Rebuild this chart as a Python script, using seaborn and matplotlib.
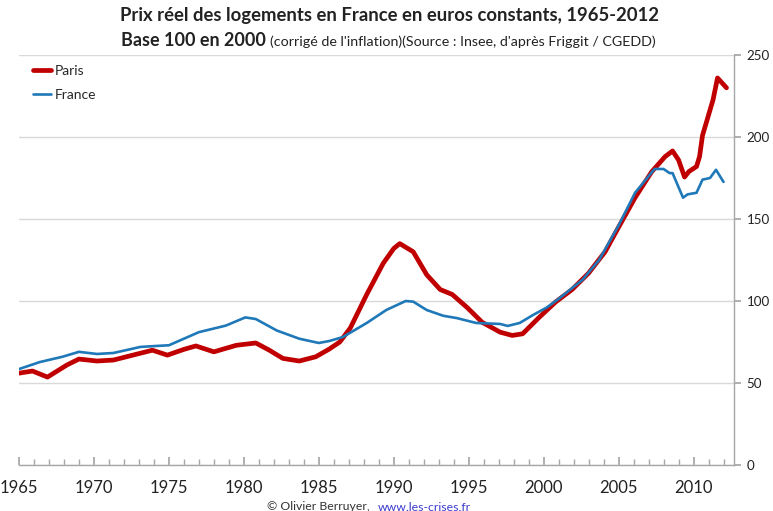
import numpy as np
import pandas as pd
import matplotlib
matplotlib.use("Agg")
import matplotlib.pyplot as plt
import seaborn as sns
from matplotlib.ticker import MultipleLocator

# ---- data ----
paris_years = [1965.0, 1965.9, 1966.9, 1968.2, 1969.0, 1970.2, 1971.3, 1972.6, 1973.9, 1974.9,
               1976.0, 1976.8, 1978.0, 1979.5, 1980.8, 1981.7, 1982.6, 1983.7, 1984.8, 1985.7,
               1986.4, 1987.1, 1988.2, 1989.3, 1990.0, 1990.4, 1991.3, 1992.2, 1993.1, 1993.9,
               1994.9, 1995.9, 1997.1, 1997.9, 1998.6, 1999.7, 2000.8, 2001.9, 2003.0, 2004.1,
               2005.0, 2006.1, 2007.2, 2008.1, 2008.6, 2009.0, 2009.4, 2009.7, 2010.2, 2010.4,
               2010.6, 2011.3, 2011.6, 2012.2]
paris_values = [56, 57.3, 53.6, 61, 64.6, 63.4, 64, 67, 70, 67,
                70.5, 72.6, 69, 73, 74.4, 70, 65, 63.4, 66, 70.7,
                75, 83.5, 104, 123, 132, 135, 130, 116, 107, 104,
                96, 87, 81, 79, 80, 90, 99.4, 107, 117, 130,
                145, 163, 178.7, 188, 191.5, 186, 175.6, 179, 182, 188,
                201, 222.6, 236, 230]

france_years = [1965.0, 1966.4, 1967.9, 1969.0, 1970.2, 1971.3, 1973.1, 1974.2, 1975.0, 1977.0,
                1978.8, 1980.1, 1980.8, 1982.2, 1983.7, 1985.0, 1985.7, 1986.6, 1988.2, 1989.5,
                1990.8, 1991.3, 1992.2, 1993.3, 1994.2, 1995.5, 1997.1, 1997.6, 1998.4, 1999.3,
                2000.2, 2001.1, 2002.6, 2003.7, 2005.0, 2006.1, 2007.4, 2008.0, 2008.4, 2008.6,
                2009.3, 2009.6, 2010.2, 2010.6, 2011.1, 2011.5, 2012.0]
france_values = [58.5, 62.8, 66, 69, 67.7, 68.3, 72, 72.6, 73, 81,
                 85, 90, 89, 82, 77, 74.4, 75.6, 78, 86.6, 94.5,
                 100, 99.6, 94.5, 91, 89.6, 86.6, 86, 84.8, 86.6, 91.5,
                 96, 102, 113, 125, 146, 166, 180.5, 180.5, 178, 178,
                 163, 165, 166, 174, 175, 180, 172.6]

x_ticks = [1965, 1970, 1975, 1980, 1985, 1990, 1995, 2000, 2005, 2010]
y_ticks = [0, 50, 100, 150, 200, 250]

title = "Prix réel des logements en France en euros constants, 1965-2012"
sub_bold = "Base 100 en 2000"
sub_rest = "(corrigé de l'inflation)(Source : Insee, d'après Friggit / CGEDD)"

# ---- style ----
sns.set_theme(style="white")
FONT = "Lato"
plt.rcParams["font.family"] = [FONT, "DejaVu Sans"]

W, H = 773, 511
fig = plt.figure(figsize=(W / 100, H / 100), dpi=100)
ax = fig.add_axes([19 / W, 1 - 465 / H, (734 - 19) / W, (465 - 55) / H])

red = "#C00000"
blue = "#1F78B8"
sns.lineplot(x=paris_years, y=paris_values, ax=ax, color=red, linewidth=3.4, label="Paris",
             solid_joinstyle="round", solid_capstyle="round")
sns.lineplot(x=france_years, y=france_values, ax=ax, color=blue, linewidth=1.9, label="France",
             solid_joinstyle="round", solid_capstyle="round")

ax.set_xlim(1965, 2012.7)
ax.set_ylim(0, 250)
ax.set_xticks(x_ticks)
ax.xaxis.set_minor_locator(MultipleLocator(1))
ax.set_yticks(y_ticks)
ax.yaxis.tick_right()
ax.yaxis.set_label_position("right")
ax.grid(axis="y", color="#D9D9D9", linewidth=1)
ax.set_axisbelow(True)

for s in ["top", "left"]:
    ax.spines[s].set_visible(False)
for s in ["bottom", "right"]:
    ax.spines[s].set_color("#A6A6A6")
    ax.spines[s].set_linewidth(1)

ax.tick_params(axis="x", which="major", direction="in", length=6, color="#A6A6A6",
               labelsize=12, pad=11, labelcolor="#222222", bottom=True)
ax.tick_params(axis="x", which="minor", direction="in", length=4, color="#A6A6A6", bottom=True)
ax.tick_params(axis="y", which="major", direction="out", length=5, color="#A6A6A6",
               labelsize=9.6, pad=4, labelcolor="#222222", right=True, left=False)
ax.set_xlabel("")
ax.set_ylabel("")

leg = ax.legend(loc="upper left", frameon=False, fontsize=10, handlelength=1.3,
                handletextpad=0.25, labelspacing=0.9, borderaxespad=0.3,
                bbox_to_anchor=(0.006, 1.0))
for line in leg.get_lines():
    line.set_linewidth(3.4 if line.get_label() == "Paris" else 1.9)

# ---- titles ----
fig.text(390 / W, 1 - 16 / H, title, ha="center", va="center", fontsize=13.3,
         fontweight="bold", color="#222222")
fig.text(266 / W, 1 - 41 / H, sub_bold, ha="right", va="center", fontsize=13,
         fontweight="bold", color="#222222")
fig.text(270 / W, 1 - 42 / H, sub_rest, ha="left", va="center", fontsize=10.3,
         color="#222222")

# ---- footer ----
fig.text(373 / W, 1 - 507 / H, "© Olivier Berruyer, ", ha="right", va="center",
         fontsize=8.8, color="#333333")
fig.text(378 / W, 1 - 507 / H, "www.les-crises.fr", ha="left", va="center",
         fontsize=8.8, color="#3A3ACF")

fig.savefig("out.png", dpi=100, facecolor="white")
